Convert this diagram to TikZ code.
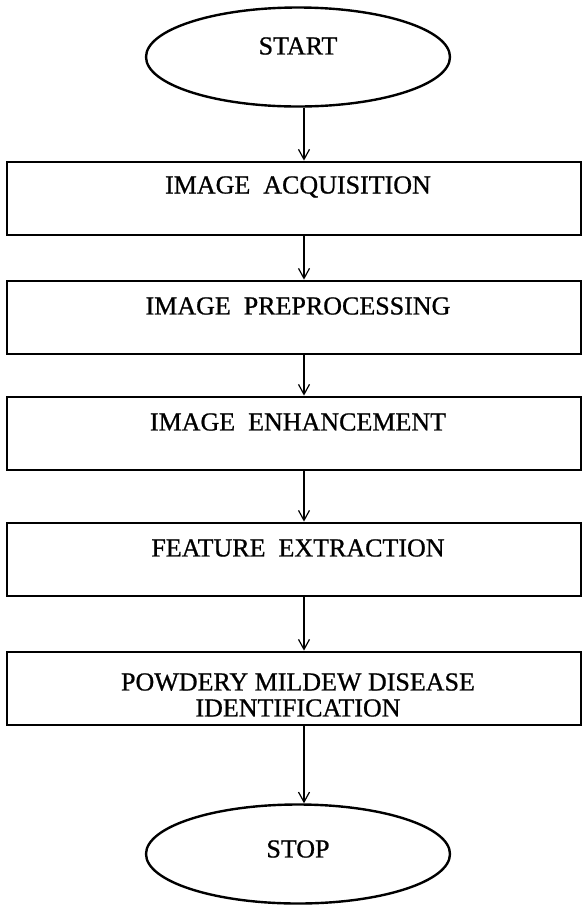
\documentclass[tikz,border=0pt]{standalone}
\usepackage{fontspec}
\setmainfont{Liberation Serif}
\newfontfamily\stepfont{Liberation Serif}[FakeBold=0.8]
\usetikzlibrary{shapes.geometric}
\usetikzlibrary{arrows.meta}

\begin{document}
\begin{tikzpicture}[
    x=1pt, y=-1pt,
    terminal/.style={ellipse, draw, line width=2.4pt, minimum width=304pt, minimum height=99pt, inner sep=0pt},
    stepbox/.style={rectangle, draw, line width=2.8pt, minimum width=574pt, minimum height=73pt, inner sep=0pt},
    steptext/.style={font=\stepfont\fontsize{26}{26}\selectfont, inner sep=0pt, align=center},
    flow/.style={line width=1.2pt, -{Straight Barb[length=10pt,width=11pt,line width=1.2pt]}}
]
\useasboundingbox (0,0) rectangle (583,906);

% Define terminals and steps
\node[terminal] (start) at (298,57) {};
\node[stepbox] (acq) at (294,198.5) {};
\node[stepbox] (pre) at (294,317.5) {};
\node[stepbox] (enh) at (294,433.5) {};
\node[stepbox] (feat) at (294,559.5) {};
\node[stepbox] (ident) at (294,688.5) {};
\node[terminal] (stop) at (298,854) {};

% Texts
\node[steptext] (start-t) at (298,46) {START};
\node[steptext] (acq-t) at (298,187) {IMAGE\ \ ACQUISITION};
\node[steptext] (pre-t) at (298,306) {IMAGE\ \ PREPROCESSING};
\node[steptext] (enh-t) at (298,422) {IMAGE\ \ ENHANCEMENT};
\node[steptext] (feat-t) at (298,548) {FEATURE\ \ EXTRACTION};
\node[steptext] (ident-t) at (298,695) {POWDERY MILDEW DISEASE\\IDENTIFICATION};
\node[steptext] (stop-t) at (298,849) {STOP};

% Define flow
\coordinate (axis) at (304,0);
\draw[flow] (start.south -| axis) -- (acq.north -| axis);
\draw[flow] (acq.south -| axis) -- (pre.north -| axis);
\draw[flow] (pre.south -| axis) -- (enh.north -| axis);
\draw[flow] (enh.south -| axis) -- (feat.north -| axis);
\draw[flow] (feat.south -| axis) -- (ident.north -| axis);
\draw[flow] (ident.south -| axis) -- (stop.north -| axis);

\end{tikzpicture}
\end{document}
